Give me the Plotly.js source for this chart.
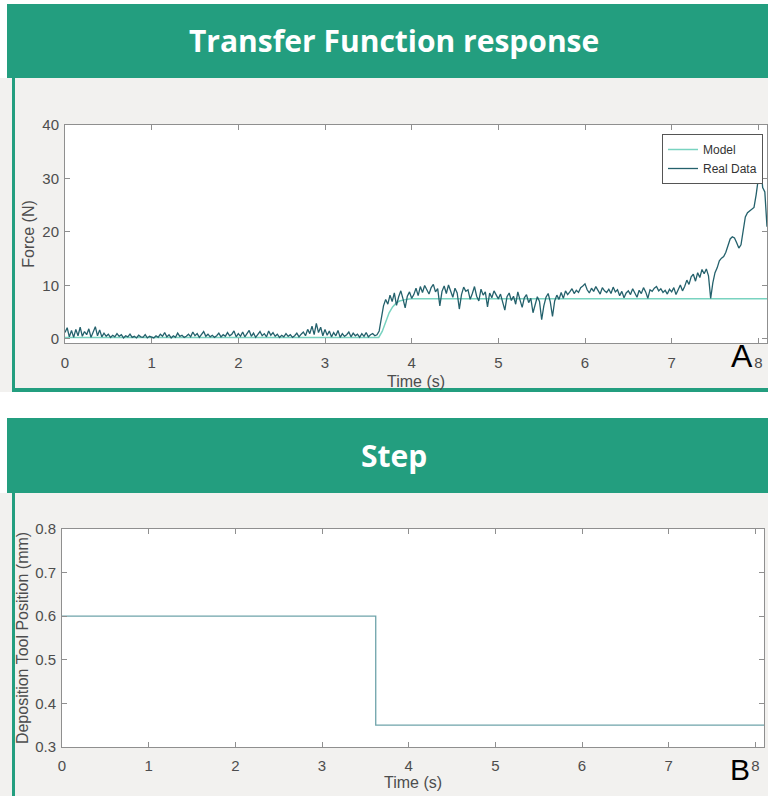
<!DOCTYPE html>
<html>
<head>
<meta charset="utf-8">
<script src="https://cdn.plot.ly/plotly-3.0.1.min.js"></script>
<style>html,body{margin:0;padding:0;background:#fff;}#chart{width:768px;height:796px;}</style>
</head>
<body>
<div id="chart"></div>
<script>
// ---------------- DATA ----------------
const panelTitles = ["Transfer Function response", "Step"];
const panelLetters = ["A", "B"];
const seriesNames = ["Model", "Real Data"];
const xTickVals = [0, 1, 2, 3, 4, 5, 6, 7, 8];
const forceTickVals = [0, 10, 20, 30, 40];
const posTickVals = [0.3, 0.4, 0.5, 0.6, 0.7, 0.8];

// Model (transfer function) response
const modelTime  = [0, 3.62, 3.66, 3.70, 3.74, 3.78, 3.82, 3.86, 3.90, 3.95, 4.00, 8.1];
const modelForce = [0.3, 0.3, 1.4, 3.3, 4.9, 6.0, 6.7, 7.1, 7.3, 7.45, 7.5, 7.5];

// Real data, sampled every 0.025 s
const realStep = 0.025;
const real_0_1 = [1.2,2.1,0.4,1.6,0.3,1.8,0.6,2.2,0.5,1.4,0.8,1.9,0.3,1.2,2.3,0.6,1.7,0.4,1.1,0.5,
                  0.9,0.3,0.7,0.4,1.0,0.5,0.8,0.2,0.6,0.4,0.9,0.3,0.5,0.2,0.7,0.4,0.3,0.8,0.2,0.5];
const real_1_2 = [0.4,0.2,0.6,0.3,0.9,0.5,1.2,0.4,0.8,0.2,0.6,0.3,1.1,0.5,0.7,0.3,0.5,0.9,0.4,1.3,
                  0.6,1.0,0.3,0.8,1.4,0.5,0.9,0.4,0.7,0.3,0.6,1.1,0.4,0.8,0.5,1.2,0.6,0.9,1.5,0.4];
const real_2_3 = [1.0,0.5,1.3,0.4,0.9,1.6,0.5,1.1,0.3,0.8,1.4,0.6,1.0,0.4,1.5,0.7,1.2,0.5,0.9,0.3,
                  0.7,0.4,1.0,0.5,0.8,0.3,0.6,1.1,0.4,0.9,1.3,0.6,1.8,1.0,2.4,0.8,2.9,1.2,2.2,0.6];
const real_3_36 = [1.8,0.7,1.5,0.4,1.2,0.6,1.6,0.3,1.0,0.5,0.8,1.3,0.4,1.1,0.6,0.9,0.3,1.0,0.5,1.2,
                   0.4,0.8,1.0,0.6];
const real_36_4 = [0.8,1.5,3.8,6.2,7.4,6.5,8.2,7.0,8.6,6.3,7.9,9.0,7.5,5.8,8.0,8.8];
const real_4_5 = [7.6,8.3,9.5,8.1,9.8,8.7,10.0,9.1,8.4,9.6,10.2,8.8,9.4,6.2,8.9,9.9,8.5,10.1,9.0,7.8,
                  9.5,8.6,5.6,8.3,9.7,8.9,9.2,7.4,8.5,9.8,8.0,7.1,9.3,8.2,8.8,6.0,8.6,7.7,9.0,8.1];
const real_5_6 = [7.5,8.4,6.9,5.4,7.9,8.6,7.2,8.0,6.5,8.8,7.3,5.9,7.7,8.3,6.8,7.6,4.9,6.6,7.9,7.0,
                  3.6,6.2,7.8,8.5,6.9,4.2,7.1,8.2,7.4,8.7,7.6,9.0,8.3,8.8,9.4,8.5,9.1,8.7,9.6,9.9];
const real_6_7 = [10.3,9.2,8.6,9.5,8.9,9.8,9.1,8.4,9.6,9.0,8.7,9.3,8.5,9.7,8.8,9.2,8.1,8.9,7.7,8.6,
                  9.0,8.3,9.4,8.7,7.8,9.1,8.5,9.6,8.8,7.6,9.2,8.9,9.5,9.8,9.0,9.4,8.7,9.1,8.4,9.3];
const real_7_81 = [8.8,9.6,8.3,9.2,10.1,9.0,9.8,11.0,10.2,11.6,12.1,10.8,12.4,11.5,13.0,12.2,13.1,11.8,7.6,10.5,
                   12.4,13.3,14.6,15.1,15.4,16.2,17.6,18.7,19.1,18.9,18.0,17.0,17.6,20.1,22.8,23.6,23.9,24.2,24.6,27.0,
                   30.2,33.0,28.3,27.5,21.0];

// Step input (deposition tool position)
const stepTime = [0, 3.62, 8.1];
const stepPos  = [0.6, 0.35, 0.35];

// ---------------- BUILD ----------------
const realForce = [].concat(real_0_1, real_1_2, real_2_3, real_3_36, real_36_4, real_4_5, real_5_6, real_6_7, real_7_81);
const realTime = realForce.map((_, i) => +(i * realStep).toFixed(3));

const W = 768, H = 796;
const px = v => v / W;
const py = v => (H - v) / H;

const green = '#239e7f';
const panelBg = '#f2f1ef';
const sans = 'Liberation Sans, Arial, sans-serif';
const tickFont = {family: sans, size: 15, color: '#4d4d4d'};
const axTitleFont = {family: sans, size: 16, color: '#4d4d4d'};
const axisCommon = {
  showgrid: false, zeroline: false, showline: true, linecolor: '#8f8f8f', linewidth: 1,
  mirror: 'ticks', ticks: 'inside', ticklen: 5, tickcolor: '#8f8f8f', tickfont: tickFont
};

const traces = [
  {x: modelTime, y: modelForce, name: seriesNames[0], type: 'scatter', mode: 'lines',
   line: {color: '#79d3c0', width: 1.5}, xaxis: 'x', yaxis: 'y'},
  {x: realTime, y: realForce, name: seriesNames[1], type: 'scatter', mode: 'lines',
   line: {color: '#24616c', width: 1.3}, xaxis: 'x', yaxis: 'y'},
  {x: stepTime, y: stepPos, name: 'Step', type: 'scatter', mode: 'lines', showlegend: false,
   line: {color: '#6fa4aa', width: 1.3, shape: 'hv'}, xaxis: 'x2', yaxis: 'y2'}
];

const rect = (x0, y0, x1, y1, color) => ({type: 'rect', xref: 'paper', yref: 'paper', layer: 'below',
  x0: px(x0), x1: px(x1), y0: py(y1), y1: py(y0), fillcolor: color, line: {width: 0}});

const shapes = [
  rect(7, 4, 768, 78, green),
  rect(0, 78, 768, 392, panelBg),
  rect(12, 78, 15, 392, green),
  rect(12, 388, 768, 392, green),
  rect(7, 418, 768, 493, green),
  rect(0, 493, 768, 796, panelBg),
  rect(12, 493, 15, 796, green),
  rect(65, 125, 767, 343, '#ffffff'),
  rect(62, 529, 764, 747, '#ffffff')
];

const titleFont = {family: 'Open Sans, Noto Sans, sans-serif', size: 30, color: '#ffffff', weight: 700};
const annotations = [
  {text: panelTitles[0], xref: 'paper', yref: 'paper', x: px(394), y: py(41), xanchor: 'center', yanchor: 'middle',
   showarrow: false, font: titleFont},
  {text: panelTitles[1], xref: 'paper', yref: 'paper', x: px(394), y: py(455), xanchor: 'center', yanchor: 'middle',
   showarrow: false, font: titleFont},
  {text: panelLetters[0], xref: 'paper', yref: 'paper', x: px(742), y: py(356), xanchor: 'center', yanchor: 'middle',
   showarrow: false, font: {family: sans, size: 32, color: '#000'}},
  {text: panelLetters[1], xref: 'paper', yref: 'paper', x: px(740), y: py(769), xanchor: 'center', yanchor: 'middle',
   showarrow: false, font: {family: sans, size: 30, color: '#000'}}
];

const layout = {
  width: W, height: H,
  margin: {l: 0, r: 0, t: 0, b: 0},
  paper_bgcolor: '#ffffff', plot_bgcolor: 'rgba(0,0,0,0)',
  showlegend: true,
  legend: {x: px(662), y: py(134), xanchor: 'left', yanchor: 'top', bgcolor: '#ffffff',
           bordercolor: '#555555', borderwidth: 1, tracegroupgap: 0, itemwidth: 30,
           font: {family: sans, size: 12, color: '#333'}},
  xaxis: Object.assign({}, axisCommon, {domain: [px(65), px(767)], range: [0, 8.1], anchor: 'y',
    tickvals: xTickVals, ticklabelstandoff: 6, title: {text: 'Time (s)', font: axTitleFont, standoff: 5}}),
  yaxis: Object.assign({}, axisCommon, {domain: [py(343), py(125)], range: [-0.75, 40], anchor: 'x',
    tickvals: forceTickVals, ticklabelstandoff: 2, title: {text: 'Force (N)', font: axTitleFont, standoff: 3}}),
  xaxis2: Object.assign({}, axisCommon, {domain: [px(62), px(764)], range: [0, 8.1], anchor: 'y2',
    tickvals: xTickVals, ticklabelstandoff: 5, title: {text: 'Time (s)', font: axTitleFont, standoff: 2}}),
  yaxis2: Object.assign({}, axisCommon, {domain: [py(747), py(529)], range: [0.3, 0.8], anchor: 'x2',
    tickvals: posTickVals, tickformat: '.1f', ticklabelstandoff: 2, title: {text: 'Deposition Tool Position (mm)', font: axTitleFont, standoff: 2}}),
  shapes: shapes,
  annotations: annotations
};

Plotly.newPlot('chart', traces, layout, {displayModeBar: false, staticPlot: true});
</script>
</body>
</html>
